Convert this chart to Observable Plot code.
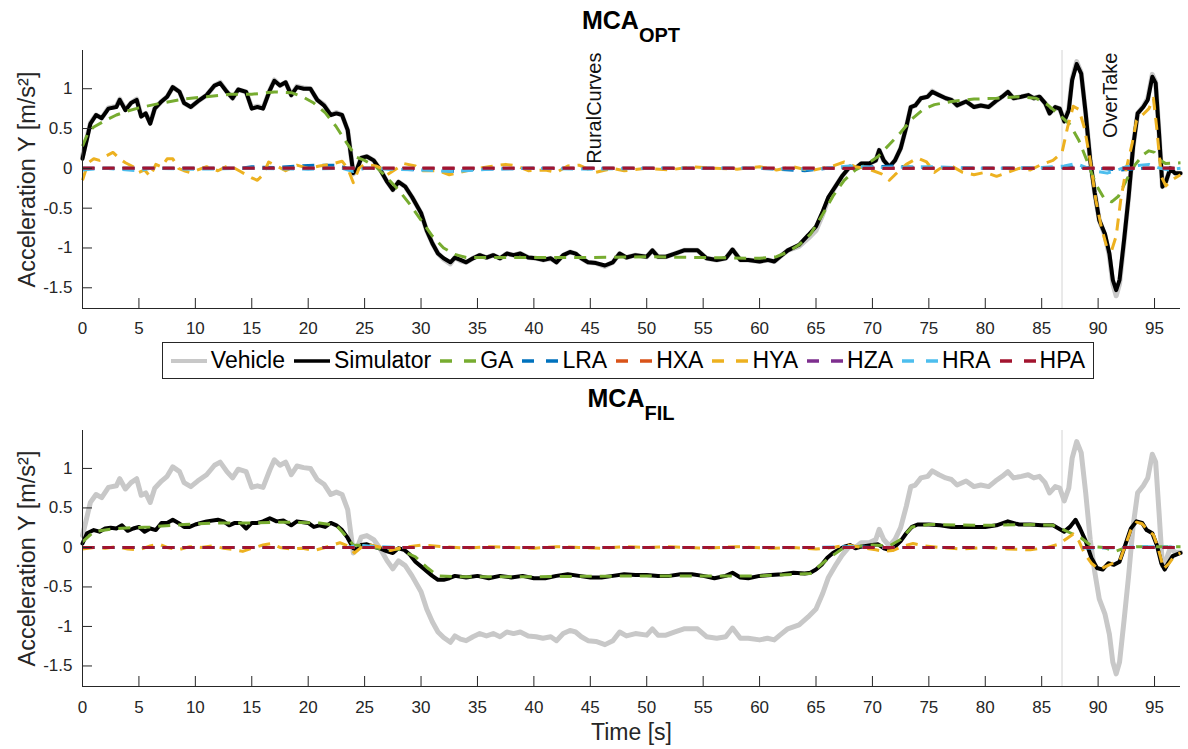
<!DOCTYPE html>
<html>
<head>
<meta charset="utf-8">
<script src="https://cdn.jsdelivr.net/npm/d3@7"></script>
<script src="https://cdn.jsdelivr.net/npm/@observablehq/plot@0.6"></script>
<style>
  body { margin: 0; background: #fff; font-family: "Liberation Sans", Arial, sans-serif; }
  #wrap { position: relative; width: 1188px; height: 749px; overflow: hidden; background: #fff; }
  .title { position: absolute; left: 82px; width: 1098px; text-align: center; font-weight: bold;
           font-size: 25px; line-height: 25px; color: #000; white-space: nowrap; }
  .title sub { font-size: 20px; vertical-align: -13px; line-height: 0; }
  .chart { position: absolute; left: 0; }
  #legend { position: absolute; left: 162px; top: 342px; width: 930px; height: 35px;
            border: 1px solid #262626; display: flex; align-items: center; justify-content: center;
            font-size: 23px; color: #000; background: #fff; }
  #legend .item { display: flex; align-items: center; }
  #legend svg { margin-right: 4px; }
  #legend .item span { margin-right: 9px; }
  #legend .item:last-child span { margin-right: 0; }
</style>
</head>
<body>
<div id="wrap">
  <div class="title" style="top:8px">MCA<sub>OPT</sub></div>
  <div id="top" class="chart" style="top:40px"></div>
  <div id="legend"></div>
  <div class="title" style="top:386px">MCA<sub>FIL</sub></div>
  <div id="bot" class="chart" style="top:420px"></div>
</div>
<script>
// ---------------- data ----------------
const xTicks = [0, 5, 10, 15, 20, 25, 30, 35, 40, 45, 50, 55, 60, 65, 70, 75, 80, 85, 90, 95];
const yTicks = [-1.5, -1, -0.5, 0, 0.5, 1];
const xDomain = [0, 97.3];
const yDomain = [-1.76, 1.48];
const sectionStart = 86.8;
const annotations = [{t: 45.4, label: "RuralCurves"}, {t: 91.1, label: "OverTake"}];
const yLabel = "Acceleration Y [m/s²]";
const xLabel = "Time [s]";

const seriesNames = ["Vehicle", "Simulator", "GA", "LRA", "HXA", "HYA", "HZA", "HRA", "HPA"];
const seriesColors = ["#c8c8c8", "#000000", "#77AC30", "#0072BD", "#D95319", "#EDB120", "#7E2F8E", "#4DBEEE", "#A2142F"];

// Vehicle lateral acceleration (same in both panels)
const vehicle = [[0,0.15],[0.3,0.33],[0.7,0.57],[1.2,0.67],[1.7,0.63],[2.3,0.76],[3.0,0.78],[3.3,0.87],[3.8,0.74],[4.3,0.82],[4.8,0.87],[5.2,0.66],[5.6,0.69],[6.0,0.57],[6.4,0.75],[7.0,0.84],[7.5,0.9],[8.0,1.02],[8.6,0.96],[9.0,0.82],[9.6,0.77],[10.2,0.84],[11.0,0.92],[11.7,1.04],[12.2,1.08],[12.8,0.96],[13.3,0.88],[13.8,0.99],[14.5,0.96],[15.0,0.76],[15.5,0.78],[16.0,0.76],[16.6,0.98],[17.0,1.11],[17.5,1.04],[18.0,1.08],[18.5,0.92],[19.0,1.03],[19.6,1.01],[20.2,1.0],[20.8,0.86],[21.4,0.8],[22.0,0.67],[22.5,0.7],[23.0,0.67],[23.5,0.48],[23.8,0.15],[24.0,-0.07],[24.3,-0.02],[24.7,0.13],[25.2,0.15],[25.8,0.1],[26.4,-0.02],[27.0,-0.17],[27.5,-0.27],[28.0,-0.17],[28.6,-0.23],[29.2,-0.36],[30.0,-0.56],[30.5,-0.78],[31.0,-0.94],[31.5,-1.07],[32.0,-1.14],[32.6,-1.2],[33.0,-1.12],[33.5,-1.16],[34.0,-1.18],[34.6,-1.13],[35.2,-1.09],[35.8,-1.12],[36.4,-1.09],[37.0,-1.13],[37.6,-1.07],[38.2,-1.09],[38.8,-1.07],[39.5,-1.12],[40.2,-1.13],[40.8,-1.15],[41.5,-1.13],[42.0,-1.18],[42.6,-1.09],[43.2,-1.05],[43.7,-1.07],[44.2,-1.13],[44.8,-1.18],[45.5,-1.19],[46.3,-1.23],[47.0,-1.18],[47.6,-1.07],[48.2,-1.12],[49.0,-1.09],[50.0,-1.11],[50.5,-1.03],[51.0,-1.11],[51.7,-1.11],[52.5,-1.07],[53.3,-1.03],[54.5,-1.03],[55.3,-1.13],[56.2,-1.15],[57.0,-1.13],[57.6,-1.02],[58.3,-1.15],[59.0,-1.15],[60.0,-1.17],[60.7,-1.15],[61.3,-1.17],[61.8,-1.11],[62.5,-1.03],[63.5,-0.98],[64.3,-0.88],[65.0,-0.78],[65.6,-0.58],[66.1,-0.38],[66.8,-0.21],[67.3,-0.1],[68.0,0.02],[68.5,0.0],[69.0,0.06],[69.7,0.06],[70.3,0.1],[70.6,0.23],[71.0,0.1],[71.5,0.02],[72.0,0.1],[72.5,0.25],[73.0,0.52],[73.4,0.77],[73.8,0.79],[74.3,0.88],[74.9,0.9],[75.3,0.97],[75.9,0.92],[76.5,0.88],[77.0,0.86],[77.5,0.79],[78.3,0.84],[79.0,0.77],[79.6,0.79],[80.3,0.77],[80.9,0.84],[81.5,0.9],[82.0,0.96],[82.5,0.88],[83.2,0.9],[83.8,0.92],[84.3,0.88],[84.8,0.9],[85.3,0.82],[85.7,0.69],[86.2,0.77],[86.6,0.75],[87.0,0.59],[87.4,0.75],[87.7,1.13],[88.1,1.34],[88.5,1.2],[88.9,0.69],[89.3,0.1],[89.7,-0.31],[90.1,-0.65],[90.6,-0.84],[91.0,-1.1],[91.3,-1.45],[91.6,-1.6],[91.9,-1.45],[92.3,-0.92],[92.7,-0.36],[93.1,0.27],[93.5,0.69],[94.0,0.78],[94.4,0.88],[94.8,1.18],[95.1,1.08],[95.4,0.44],[95.7,-0.23],[96.0,-0.17],[96.4,0.0],[96.8,-0.06],[97.3,-0.06]];

// MCA_OPT panel
const simOpt = [[0,0.12],[0.3,0.31],[0.7,0.56],[1.2,0.67],[1.7,0.63],[2.3,0.75],[3.0,0.77],[3.3,0.86],[3.8,0.73],[4.3,0.82],[4.8,0.86],[5.2,0.65],[5.6,0.69],[6.0,0.56],[6.4,0.75],[7.0,0.84],[7.5,0.9],[8.0,1.02],[8.6,0.96],[9.0,0.82],[9.6,0.77],[10.2,0.84],[11.0,0.92],[11.7,1.04],[12.2,1.07],[12.8,0.96],[13.3,0.88],[13.8,0.99],[14.5,0.96],[15.0,0.75],[15.5,0.77],[16.0,0.75],[16.6,0.98],[17.0,1.1],[17.5,1.04],[18.0,1.08],[18.5,0.92],[19.0,1.02],[19.6,1.0],[20.2,1.0],[20.8,0.86],[21.4,0.79],[22.0,0.67],[22.5,0.69],[23.0,0.67],[23.5,0.48],[23.8,0.15],[24.0,-0.06],[24.3,-0.02],[24.7,0.13],[25.2,0.15],[25.8,0.1],[26.4,-0.02],[27.0,-0.17],[27.5,-0.27],[28.0,-0.17],[28.6,-0.23],[29.2,-0.36],[30.0,-0.56],[30.5,-0.78],[31.0,-0.94],[31.5,-1.07],[32.0,-1.13],[32.6,-1.18],[33.0,-1.12],[33.5,-1.15],[34.0,-1.18],[34.6,-1.13],[35.2,-1.09],[35.8,-1.12],[36.4,-1.09],[37.0,-1.13],[37.6,-1.07],[38.2,-1.09],[38.8,-1.07],[39.5,-1.12],[40.2,-1.13],[40.8,-1.15],[41.5,-1.13],[42.0,-1.18],[42.6,-1.09],[43.2,-1.05],[43.7,-1.07],[44.2,-1.13],[44.8,-1.18],[45.5,-1.19],[46.3,-1.22],[47.0,-1.18],[47.6,-1.07],[48.2,-1.12],[49.0,-1.09],[50.0,-1.11],[50.5,-1.03],[51.0,-1.11],[51.7,-1.11],[52.5,-1.07],[53.3,-1.03],[54.5,-1.03],[55.3,-1.13],[56.2,-1.15],[57.0,-1.13],[57.6,-1.02],[58.3,-1.15],[59.0,-1.15],[60.0,-1.17],[60.7,-1.15],[61.3,-1.17],[61.8,-1.11],[62.5,-1.03],[63.5,-0.96],[64.3,-0.84],[65.0,-0.73],[65.6,-0.54],[66.1,-0.36],[66.8,-0.21],[67.3,-0.1],[68.0,0.02],[68.5,0.0],[69.0,0.06],[69.7,0.06],[70.3,0.1],[70.6,0.23],[71.0,0.1],[71.5,0.02],[72.0,0.1],[72.5,0.25],[73.0,0.52],[73.4,0.77],[73.8,0.79],[74.3,0.88],[74.9,0.9],[75.3,0.96],[75.9,0.92],[76.5,0.88],[77.0,0.86],[77.5,0.79],[78.3,0.84],[79.0,0.77],[79.6,0.79],[80.3,0.77],[80.9,0.84],[81.5,0.9],[82.0,0.96],[82.5,0.88],[83.2,0.9],[83.8,0.92],[84.3,0.88],[84.8,0.9],[85.3,0.82],[85.7,0.69],[86.2,0.77],[86.6,0.75],[87.0,0.59],[87.4,0.73],[87.7,1.11],[88.1,1.31],[88.5,1.19],[88.9,0.69],[89.3,0.1],[89.7,-0.31],[90.1,-0.65],[90.6,-0.82],[91.0,-1.07],[91.3,-1.4],[91.6,-1.53],[91.9,-1.4],[92.3,-0.9],[92.7,-0.36],[93.1,0.27],[93.5,0.69],[94.0,0.77],[94.4,0.86],[94.8,1.15],[95.1,1.07],[95.4,0.44],[95.7,-0.23],[96.0,-0.17],[96.4,0.0],[96.8,-0.06],[97.3,-0.06]];
const gaOpt = [[0,0.28],[0.5,0.45],[1,0.52],[2,0.6],[3,0.67],[4,0.72],[5,0.76],[7,0.82],[9,0.87],[11,0.9],[13,0.93],[15,0.93],[17,0.96],[18.5,0.95],[19.5,0.9],[20.5,0.82],[21.5,0.7],[22.5,0.52],[23.5,0.3],[24.3,0.14],[25,0.1],[26,0.02],[27,-0.12],[28,-0.27],[29,-0.45],[30,-0.65],[31,-0.85],[32,-1.0],[33,-1.08],[34,-1.12],[36,-1.12],[40,-1.12],[45,-1.12],[50,-1.11],[55,-1.12],[60,-1.13],[61.5,-1.11],[62.5,-1.05],[63.5,-0.96],[64.5,-0.83],[65.5,-0.6],[66.5,-0.35],[67.5,-0.15],[68.5,-0.02],[69.5,0.05],[70.5,0.15],[71.5,0.3],[72.5,0.45],[73.5,0.62],[74.5,0.74],[75.5,0.8],[77,0.84],[79,0.87],[81,0.88],[83,0.9],[84.5,0.88],[85.5,0.8],[86.5,0.68],[87.5,0.55],[88.3,0.35],[89,0.1],[89.8,-0.2],[90.5,-0.37],[91.2,-0.42],[91.8,-0.35],[92.5,-0.15],[93.3,0.05],[94,0.17],[94.5,0.22],[95,0.2],[95.5,0.1],[96,0.06],[97.3,0.07]];
const lraOpt = [[0,0],[14,0],[15,0.02],[17,0.01],[19,0.03],[21,0.04],[22.5,0.04],[23.5,0.0],[26,0],[30,-0.02],[33,-0.04],[35,-0.01],[40,0],[60,0],[64,-0.03],[66,0],[70,0.02],[72,0.03],[74,0.01],[80,0],[86,0],[88,0.02],[90,0],[92,-0.02],[94,0],[97.3,0]];
const hyaOpt = [[0,-0.15],[0.5,0.07],[1,0.12],[1.5,0.1],[2,0.15],[2.7,0.2],[3.3,0.12],[3.8,0.07],[4.5,0.02],[5.0,-0.05],[5.5,-0.02],[6.0,-0.1],[6.5,0.05],[7,0.02],[7.5,0.12],[8.0,0.12],[8.5,0.0],[9,-0.03],[9.5,-0.05],[10,-0.03],[11,0.02],[12,-0.03],[13,0.04],[14,-0.04],[15,-0.12],[15.5,-0.15],[16,-0.08],[16.5,0.08],[17.2,0.03],[18,-0.03],[19,0.04],[20,0.0],[21,0.03],[22,0.05],[23,0.09],[23.5,0.0],[24,-0.18],[24.5,0.0],[25,0.05],[26,0.03],[26.5,0.0],[27,-0.08],[28.5,0.06],[29.5,0.03],[30,-0.03],[31.5,-0.03],[32.5,-0.08],[33.5,-0.05],[35,0.0],[36,0.02],[37.5,0.05],[38.5,0.03],[39.5,-0.03],[41,-0.02],[42,-0.05],[43,0.03],[44,0.04],[45.5,-0.05],[47,0.0],[48,-0.03],[50,0.0],[52,-0.02],[54,0.02],[56,0.0],[58,-0.01],[60,0.02],[61.5,-0.02],[63,0.02],[64.5,-0.03],[65.5,0.0],[66.5,0.03],[67.5,0.08],[68.5,0.02],[69.5,0.0],[70.8,-0.07],[71.5,-0.15],[72,-0.08],[73,0.05],[74,0.13],[74.8,0.08],[75.5,-0.05],[76,0.0],[77,0.03],[78,-0.05],[79,-0.08],[80,-0.05],[81,-0.1],[82,-0.05],[83,0.0],[84,-0.02],[85,0.05],[86,0.1],[86.8,0.2],[87.3,0.52],[87.8,0.78],[88.3,0.74],[88.8,0.5],[89.3,0.1],[89.8,-0.4],[90.3,-0.75],[90.8,-1.0],[91.2,-1.03],[91.6,-0.85],[92.0,-0.4],[92.5,0.0],[93,0.3],[93.4,0.6],[94,0.68],[94.5,0.75],[94.9,0.88],[95.2,0.5],[95.6,-0.1],[96,-0.22],[96.5,-0.15],[97.3,-0.08]];
const hraOpt = [[0,-0.02],[2,0],[5,-0.03],[6,0],[10,-0.01],[15,0],[20,-0.01],[23,0],[24,-0.04],[25,0],[30,-0.02],[33,-0.04],[36,-0.01],[40,0],[45,-0.01],[50,0],[60,0],[65,-0.01],[68,0.03],[70,0.01],[75,0.02],[80,0],[85,0.01],[87,0.03],[88,0.06],[89,0.01],[90,-0.04],[90.8,-0.06],[91.5,-0.03],[92.5,0.02],[94.5,0.05],[95.5,0.0],[96.3,-0.02],[97.3,0]];

// MCA_FIL panel
const simFil = [[0,0.05],[0.4,0.18],[1,0.22],[1.5,0.2],[2,0.24],[2.5,0.25],[3,0.24],[3.5,0.28],[4,0.21],[4.5,0.24],[5,0.26],[5.5,0.2],[6,0.24],[6.5,0.22],[7,0.31],[7.5,0.31],[8,0.35],[8.5,0.31],[9,0.26],[9.5,0.26],[10,0.29],[11,0.33],[12,0.35],[12.5,0.33],[13,0.28],[13.5,0.31],[14,0.31],[14.5,0.24],[15,0.31],[15.5,0.31],[16,0.33],[16.6,0.37],[17.2,0.33],[17.8,0.34],[18.5,0.28],[19,0.33],[20,0.31],[20.5,0.26],[21,0.28],[21.5,0.26],[22,0.31],[22.5,0.28],[23,0.22],[23.5,0.12],[24,-0.01],[24.3,-0.03],[24.7,0.03],[25.2,0.04],[25.8,0.01],[26.3,-0.01],[27,-0.05],[27.5,-0.07],[28,-0.01],[28.5,-0.03],[29,-0.09],[29.5,-0.18],[30,-0.24],[30.5,-0.3],[31,-0.36],[31.5,-0.41],[32,-0.41],[32.5,-0.39],[33,-0.36],[34,-0.38],[35,-0.36],[36,-0.39],[37,-0.36],[38,-0.38],[39,-0.36],[40,-0.39],[41,-0.39],[42,-0.36],[43,-0.34],[44,-0.36],[45,-0.38],[46,-0.38],[47,-0.36],[48,-0.34],[49,-0.35],[50,-0.35],[51,-0.36],[52,-0.36],[53,-0.34],[54,-0.34],[55,-0.36],[56,-0.39],[57,-0.36],[57.6,-0.32],[58.3,-0.38],[59,-0.39],[60,-0.36],[61,-0.35],[62,-0.34],[63,-0.32],[64,-0.33],[64.5,-0.32],[65,-0.28],[65.5,-0.22],[66,-0.13],[66.5,-0.07],[67,-0.03],[67.5,0.01],[68,0.03],[68.5,-0.01],[69,0.01],[70,0.03],[70.5,0.04],[71,-0.01],[71.5,-0.03],[72,0.01],[72.5,0.08],[73,0.18],[73.5,0.26],[74,0.29],[75,0.29],[76,0.28],[77,0.26],[78,0.26],[79,0.26],[80,0.26],[81,0.28],[82,0.33],[83,0.29],[84,0.29],[85,0.28],[86,0.28],[86.5,0.24],[87,0.2],[87.5,0.26],[88,0.35],[88.4,0.24],[88.9,0.08],[89.4,-0.13],[89.9,-0.26],[90.4,-0.28],[90.9,-0.2],[91.4,-0.22],[91.9,-0.18],[92.4,0.03],[92.9,0.24],[93.4,0.33],[93.9,0.31],[94.3,0.22],[94.8,0.18],[95.2,0.03],[95.6,-0.2],[95.9,-0.28],[96.2,-0.2],[96.6,-0.11],[97.3,-0.07]];
const gaFil = [[0,0.07],[1,0.2],[3,0.24],[6,0.26],[9,0.29],[12,0.31],[15,0.31],[18,0.32],[21,0.31],[22.5,0.28],[23.5,0.12],[24,0.03],[25,0.02],[27,-0.03],[28,-0.02],[29.5,-0.12],[30.5,-0.25],[31.5,-0.36],[33,-0.37],[40,-0.37],[50,-0.36],[60,-0.36],[64.5,-0.33],[66,-0.15],[67.5,0],[70,0.03],[71.5,0.02],[72.5,0.1],[73.5,0.26],[75,0.29],[80,0.28],[84,0.29],[86,0.28],[87,0.22],[88.5,0.12],[89.5,0.01],[90.5,0],[91.5,-0.05],[92.5,0],[93.5,0.01],[97.3,0.01]];
const hyaFil = [[0,-0.02],[1,0.0],[2,-0.01],[3,0.01],[4,-0.02],[5,-0.03],[6,0.02],[6.8,0.04],[7.5,0.0],[8.5,-0.03],[9.5,0.01],[10.5,0.0],[11.5,0.02],[12.5,-0.01],[13.5,-0.03],[14.2,-0.05],[15,-0.01],[16,0.03],[16.7,0.05],[17.5,0.0],[18.5,-0.02],[19.5,-0.01],[20.5,-0.04],[21.5,0.0],[22.8,0.06],[23.5,0.02],[24.1,-0.07],[24.7,0.0],[25.5,0.03],[26.5,0.0],[27.3,-0.04],[28.3,0.0],[30,0.03],[32,0.01],[34,-0.01],[36,0.01],[38,0.0],[40,-0.01],[42,0.01],[44,0.0],[46,-0.01],[48,0.01],[50,0.0],[52,0.01],[55,-0.01],[58,0.01],[61,-0.01],[63,0.0],[65,-0.02],[66.5,0.0],[67.8,0.03],[69,0.0],[70.3,-0.03],[71,-0.05],[71.8,-0.04],[72.8,0.02],[73.6,0.05],[74.5,0.02],[76,0.0],[78,-0.02],[80,0.0],[82,-0.02],[84,-0.03],[85.5,0.0],[86.5,0.04],[87.3,0.12],[87.8,0.17],[88.3,0.08],[88.8,-0.08],[89.4,-0.2],[90.1,-0.28],[90.7,-0.24],[91.3,-0.2],[91.9,-0.17],[92.4,0.02],[92.9,0.22],[93.4,0.32],[93.9,0.3],[94.4,0.22],[94.9,0.16],[95.3,0.0],[95.8,-0.27],[96.3,-0.2],[96.8,-0.1],[97.3,-0.07]];
const hraFil = [[0,0],[20,0],[23.5,0],[24.5,0.03],[26,0.01],[28,0],[40,0],[65,0],[68,0.01],[70,0],[87,0],[90,-0.01],[92,0],[94.5,0.01],[97.3,0]];
const zeroSeries = [[0,0],[97.3,0]];

// ---------------- chart ----------------
const FONT = "Liberation Sans, Arial, Helvetica, sans-serif";
const INK = "#262626";

function lineMarks(byName) {
  return seriesNames.map((name, i) => {
    const solid = i < 2;
    return Plot.line(byName[name], {
      x: d => d[0], y: d => d[1],
      stroke: seriesColors[i],
      strokeWidth: i === 0 ? 5 : i === 1 ? 4 : 3,
      strokeDasharray: solid ? null : "12,8",
      strokeLinejoin: "round",
      strokeLinecap: solid ? "round" : "butt",
      curve: "linear"
    });
  });
}

function makePlot({byName, height, marginBottom, tickPad, annotate, withXLabel}) {
  return Plot.plot({
    width: 1188, height,
    marginLeft: 82, marginRight: 8, marginTop: 10, marginBottom,
    style: {fontFamily: FONT, fontSize: "17px", color: INK, background: "transparent", overflow: "visible"},
    x: {domain: xDomain},
    y: {domain: yDomain},
    marks: [
      Plot.ruleX([sectionStart], {stroke: "#d4d4d4", strokeWidth: 1}),
      ...lineMarks(byName),
      annotate ? Plot.text(annotations, {x: "t", text: "label", frameAnchor: "top", dy: 2, rotate: -90,
        textAnchor: "end", lineAnchor: "middle", fontSize: 20, fill: "#111"}) : null,
      Plot.ruleX([xDomain[0]], {stroke: INK, strokeWidth: 1}),
      Plot.ruleY([yDomain[0]], {stroke: INK, strokeWidth: 1}),
      Plot.axisX({ticks: xTicks, tickSize: -10, tickPadding: tickPad, tickFormat: d => String(d),
        label: null, stroke: INK, fill: INK, fontSize: 17}),
      Plot.axisY({ticks: yTicks, tickSize: -10, tickPadding: 20, tickFormat: d => String(d),
        label: null, stroke: INK, fill: INK, fontSize: 17}),
      Plot.text([yLabel], {frameAnchor: "left", textAnchor: "middle", rotate: -90, dx: -55, fontSize: 23.5,
        fill: INK, lineAnchor: "middle"}),
      withXLabel ? Plot.text([xLabel], {frameAnchor: "bottom", textAnchor: "middle", dy: 46, fontSize: 23,
        fill: INK, lineAnchor: "middle"}) : null
    ]
  });
}

const optData = {Vehicle: vehicle, Simulator: simOpt, GA: gaOpt, LRA: lraOpt, HXA: zeroSeries,
                 HYA: hyaOpt, HZA: zeroSeries, HRA: hraOpt, HPA: zeroSeries};
const filData = {Vehicle: vehicle, Simulator: simFil, GA: gaFil, LRA: zeroSeries, HXA: zeroSeries,
                 HYA: hyaFil, HZA: zeroSeries, HRA: hraFil, HPA: zeroSeries};

document.getElementById("top").appendChild(
  makePlot({byName: optData, height: 298, marginBottom: 30, tickPad: 23, annotate: true, withXLabel: false}));
document.getElementById("bot").appendChild(
  makePlot({byName: filData, height: 329, marginBottom: 63, tickPad: 24, annotate: false, withXLabel: true}));

// ---------------- legend ----------------
const legend = document.getElementById("legend");
seriesNames.forEach((name, i) => {
  const solid = i < 2;
  const item = document.createElement("div");
  item.className = "item";
  item.innerHTML =
    `<svg width="36" height="12"><line x1="0" y1="6" x2="36" y2="6" stroke="${seriesColors[i]}" ` +
    `stroke-width="${i === 0 ? 4 : 3.5}" ${solid ? "" : 'stroke-dasharray="12,12"'}/></svg><span>${name}</span>`;
  legend.appendChild(item);
});
</script>
</body>
</html>
